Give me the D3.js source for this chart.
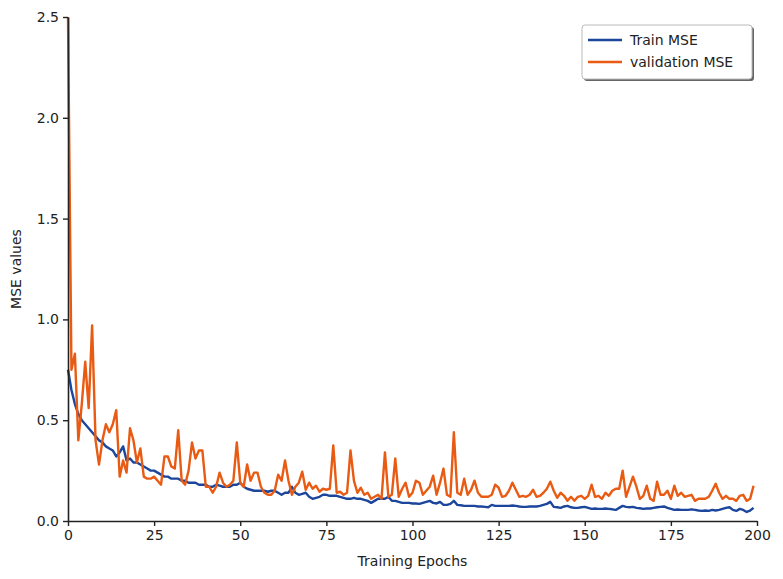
<!DOCTYPE html>
<html>
<head>
<meta charset="utf-8">
<script src="https://cdn.jsdelivr.net/npm/d3@7"></script>
<style>
  body { margin: 0; background: #fff; }
  svg text { font-family: "DejaVu Sans", sans-serif; fill: #222; }
</style>
</head>
<body id="body">
<script>
// MSE per epoch
var trainMSE = [
    0.75, 0.65, 0.58, 0.53, 0.50, 0.48, 0.46, 0.44, 0.42, 0.40,
    0.39, 0.37, 0.36, 0.35, 0.32, 0.34, 0.37, 0.30, 0.31, 0.29,
    0.29, 0.28, 0.27, 0.26, 0.25, 0.25, 0.24, 0.23, 0.22, 0.22,
    0.21, 0.21, 0.21, 0.20, 0.20, 0.19, 0.19, 0.19, 0.18, 0.18,
    0.18, 0.17, 0.17, 0.18, 0.175, 0.17, 0.17, 0.17, 0.18, 0.18,
    0.19, 0.17, 0.16, 0.155, 0.15, 0.15, 0.15, 0.15, 0.145, 0.15,
    0.15, 0.14, 0.13, 0.14, 0.14, 0.17, 0.14, 0.13, 0.135, 0.14,
    0.12, 0.11, 0.115, 0.12, 0.13, 0.13, 0.125, 0.125, 0.125, 0.12,
    0.115, 0.11, 0.11, 0.115, 0.11, 0.11, 0.105, 0.10, 0.09, 0.10,
    0.11, 0.11, 0.11, 0.12, 0.10, 0.10, 0.095, 0.09, 0.09, 0.09,
    0.087, 0.087, 0.085, 0.09, 0.095, 0.10, 0.09, 0.087, 0.095, 0.08,
    0.08, 0.085, 0.10, 0.08, 0.078, 0.075, 0.075, 0.075, 0.075, 0.072,
    0.072, 0.07, 0.068, 0.08, 0.075, 0.075, 0.075, 0.075, 0.075, 0.077,
    0.075, 0.072, 0.07, 0.07, 0.072, 0.072, 0.072, 0.075, 0.08, 0.085,
    0.095, 0.07, 0.068, 0.065, 0.072, 0.075, 0.068, 0.065, 0.065, 0.068,
    0.07, 0.065, 0.06, 0.062, 0.06, 0.06, 0.062, 0.06, 0.058, 0.055,
    0.065, 0.075, 0.07, 0.068, 0.07, 0.065, 0.063, 0.06, 0.062, 0.062,
    0.065, 0.068, 0.07, 0.072, 0.065, 0.06, 0.055, 0.057, 0.055, 0.055,
    0.055, 0.058, 0.055, 0.052, 0.05, 0.052, 0.05, 0.055, 0.052, 0.055,
    0.06, 0.065, 0.068, 0.055, 0.05, 0.06, 0.055, 0.045, 0.052, 0.065
];

var validationMSE = [
    2.5, 0.75, 0.83, 0.40, 0.58, 0.79, 0.56, 0.97, 0.40, 0.28,
    0.40, 0.48, 0.44, 0.48, 0.55, 0.22, 0.30, 0.24, 0.46, 0.40,
    0.29, 0.36, 0.22, 0.21, 0.21, 0.22, 0.20, 0.18, 0.32, 0.32,
    0.27, 0.26, 0.45, 0.20, 0.18, 0.25, 0.39, 0.31, 0.35, 0.35,
    0.17, 0.17, 0.14, 0.17, 0.24, 0.19, 0.17, 0.18, 0.20, 0.39,
    0.19, 0.17, 0.28, 0.20, 0.24, 0.24, 0.17, 0.14, 0.13, 0.13,
    0.15, 0.23, 0.20, 0.30, 0.20, 0.13, 0.17, 0.19, 0.245, 0.155,
    0.19, 0.16, 0.175, 0.145, 0.16, 0.155, 0.16, 0.375, 0.14, 0.145,
    0.13, 0.14, 0.35, 0.20, 0.14, 0.165, 0.13, 0.14, 0.11, 0.12,
    0.13, 0.11, 0.34, 0.12, 0.13, 0.31, 0.12, 0.16, 0.19, 0.12,
    0.14, 0.20, 0.19, 0.13, 0.15, 0.17, 0.225, 0.13, 0.19, 0.26,
    0.13, 0.12, 0.44, 0.14, 0.13, 0.21, 0.13, 0.155, 0.20, 0.14,
    0.12, 0.12, 0.12, 0.13, 0.18, 0.165, 0.12, 0.125, 0.15, 0.19,
    0.155, 0.12, 0.125, 0.12, 0.13, 0.155, 0.12, 0.125, 0.14, 0.16,
    0.195, 0.15, 0.115, 0.14, 0.125, 0.10, 0.12, 0.10, 0.12, 0.125,
    0.11, 0.125, 0.18, 0.12, 0.125, 0.11, 0.14, 0.125, 0.15, 0.16,
    0.16, 0.25, 0.12, 0.17, 0.22, 0.17, 0.11, 0.125, 0.175, 0.11,
    0.10, 0.195, 0.13, 0.13, 0.15, 0.11, 0.175, 0.125, 0.14, 0.12,
    0.125, 0.13, 0.10, 0.11, 0.11, 0.11, 0.12, 0.15, 0.185, 0.14,
    0.11, 0.125, 0.11, 0.11, 0.10, 0.125, 0.13, 0.10, 0.11, 0.175
];

var xTicks = [0, 25, 50, 75, 100, 125, 150, 175, 200];
var yTicks = [0, 0.5, 1.0, 1.5, 2.0, 2.5];
var seriesNames = ["Train MSE", "validation MSE"];
var seriesColors = ["#1b469c", "#e95a12"];

var width = 783,
    height = 579,
    margin = { top: 17, right: 26, bottom: 58, left: 68 };

var svg = d3.select("body").append("svg")
    .attr("width", width)
    .attr("height", height);

var x = d3.scaleLinear().domain([0, 200]).range([margin.left, width - margin.right]);
var y = d3.scaleLinear().domain([0, 2.5]).range([height - margin.bottom, margin.top]);

var line = d3.line()
    .x(function (d, i) { return x(i); })
    .y(function (d) { return y(d); });

var plot = svg.append("g");

plot.append("path")
    .datum(trainMSE)
    .attr("fill", "none")
    .attr("stroke", seriesColors[0])
    .attr("stroke-width", 2.4)
    .attr("stroke-linejoin", "round")
    .attr("d", line);

plot.append("path")
    .datum(validationMSE)
    .attr("fill", "none")
    .attr("stroke", seriesColors[1])
    .attr("stroke-width", 2.4)
    .attr("stroke-linejoin", "round")
    .attr("d", line);

// axes (left and bottom spines only)
var xAxis = svg.append("g")
    .attr("transform", "translate(0," + (height - margin.bottom) + ")")
    .call(d3.axisBottom(x).tickValues(xTicks).tickSize(5).tickPadding(4).tickSizeOuter(0));

var yAxis = svg.append("g")
    .attr("transform", "translate(" + margin.left + ",0)")
    .call(d3.axisLeft(y).tickValues(yTicks).tickSize(5).tickPadding(4).tickSizeOuter(0)
        .tickFormat(d3.format(".1f")));

[xAxis, yAxis].forEach(function (a) {
    a.select(".domain").attr("stroke", "#222").attr("stroke-width", 1.6);
    a.selectAll(".tick line").attr("stroke", "#222").attr("stroke-width", 1.4);
    a.selectAll(".tick text").style("font-size", "14px").attr("fill", "#222");
});

svg.append("text")
    .attr("x", (x(0) + x(200)) / 2)
    .attr("y", 566)
    .attr("text-anchor", "middle")
    .style("font-size", "14px")
    .text("Training Epochs");

svg.append("text")
    .attr("transform", "translate(21," + (y(1.25)) + ") rotate(-90)")
    .attr("text-anchor", "middle")
    .style("font-size", "14px")
    .text("MSE values");

// legend
var legend = svg.append("g").attr("transform", "translate(582,25)");

legend.append("rect")
    .attr("x", 2).attr("y", 2)
    .attr("width", 170).attr("height", 54)
    .attr("rx", 3)
    .attr("fill", "#666");

legend.append("rect")
    .attr("width", 170).attr("height", 54)
    .attr("rx", 3)
    .attr("fill", "#fff")
    .attr("stroke", "#bbb");

var items = legend.selectAll(".item")
    .data(seriesNames)
    .enter().append("g")
    .attr("class", "item")
    .attr("transform", function (d, i) { return "translate(0," + (15 + i * 22) + ")"; });

items.append("line")
    .attr("x1", 6).attr("x2", 40)
    .attr("stroke", function (d, i) { return seriesColors[i]; })
    .attr("stroke-width", 2.4);

items.append("text")
    .attr("x", 48)
    .attr("dy", "0.35em")
    .style("font-size", "14px")
    .text(function (d) { return d; });
</script>
</body>
</html>
